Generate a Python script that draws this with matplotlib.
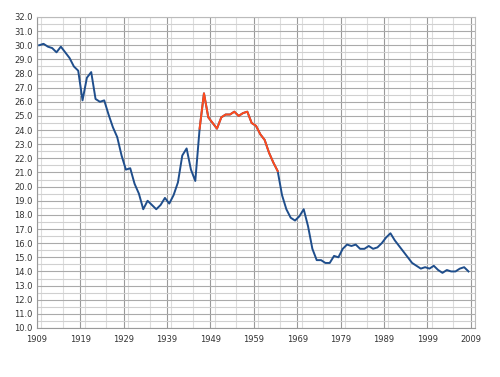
import matplotlib
matplotlib.use("Agg")
import matplotlib.pyplot as plt
from matplotlib.ticker import MultipleLocator
import numpy as np

years = list(range(1909, 2009))
rates = [30.0, 30.1, 29.9, 29.8, 29.5, 29.9, 29.5, 29.1, 28.5, 28.2,
         26.1, 27.7, 28.1, 26.2, 26.0, 26.1, 25.1, 24.2, 23.5, 22.2,
         21.2, 21.3, 20.2, 19.5, 18.4, 19.0, 18.7, 18.4, 18.7, 19.2,
         18.8, 19.4, 20.3, 22.2, 22.7, 21.2, 20.4, 24.1, 26.6, 24.9,
         24.5, 24.1, 24.9, 25.1, 25.1, 25.3, 25.0, 25.2, 25.3, 24.5,
         24.3, 23.7, 23.3, 22.4, 21.7, 21.1, 19.4, 18.4, 17.8, 17.6,
         17.9, 18.4, 17.2, 15.6, 14.8, 14.8, 14.6, 14.6, 15.1, 15.0,
         15.6, 15.9, 15.8, 15.9, 15.6, 15.6, 15.8, 15.6, 15.7, 16.0,
         16.4, 16.7, 16.2, 15.8, 15.4, 15.0, 14.6, 14.4, 14.2, 14.3,
         14.2, 14.4, 14.1, 13.9, 14.1, 14.0, 14.0, 14.2, 14.3, 14.0]
boom_start, boom_end = 1946, 1964
tick_years = list(range(1909, 2010, 10))

blue = "#1f4e8c"
orange = "#ff4a1c"

fig = plt.figure(figsize=(5.0, 3.77), dpi=100)
ax = fig.add_axes([0.074, 0.13, 0.876, 0.825])

x = np.array(years) + 0.5
y = np.array(rates)
yrs = np.array(years)

ax.plot(x, y, color=blue, lw=1.4, solid_joinstyle="round", zorder=3)
m = (yrs >= boom_start) & (yrs <= boom_end)
ax.plot(x[m], y[m], color=orange, lw=1.4, solid_joinstyle="round", zorder=4)

ax.set_xlim(1909, 2010)
ax.set_ylim(10, 32)
ax.set_xticks(tick_years)
ax.set_xticklabels([str(t) for t in tick_years])
ax.xaxis.set_minor_locator(MultipleLocator(5))
ax.yaxis.set_major_locator(MultipleLocator(1))
ax.yaxis.set_minor_locator(MultipleLocator(0.5))
ax.set_yticklabels([f"{v:.1f}" for v in ax.get_yticks()])

ax.grid(which="major", axis="x", color="#9a9a9a", lw=0.8)
ax.grid(which="minor", axis="x", color="#dddddd", lw=0.8)
ax.grid(which="major", axis="y", color="#aaaaaa", lw=0.8)
ax.grid(which="minor", axis="y", color="#d0d0d0", lw=0.8)
ax.set_axisbelow(True)

for s in ["top", "right"]:
    ax.spines[s].set_color("#bbbbbb")
    ax.spines[s].set_linewidth(0.8)
for s in ["left", "bottom"]:
    ax.spines[s].set_color("#999999")
    ax.spines[s].set_linewidth(0.8)

ax.tick_params(which="both", length=0, labelsize=6, labelcolor="#333333")
ax.tick_params(axis="x", pad=5)
ax.tick_params(axis="y", pad=3)

fig.savefig("out.png", dpi=100)
